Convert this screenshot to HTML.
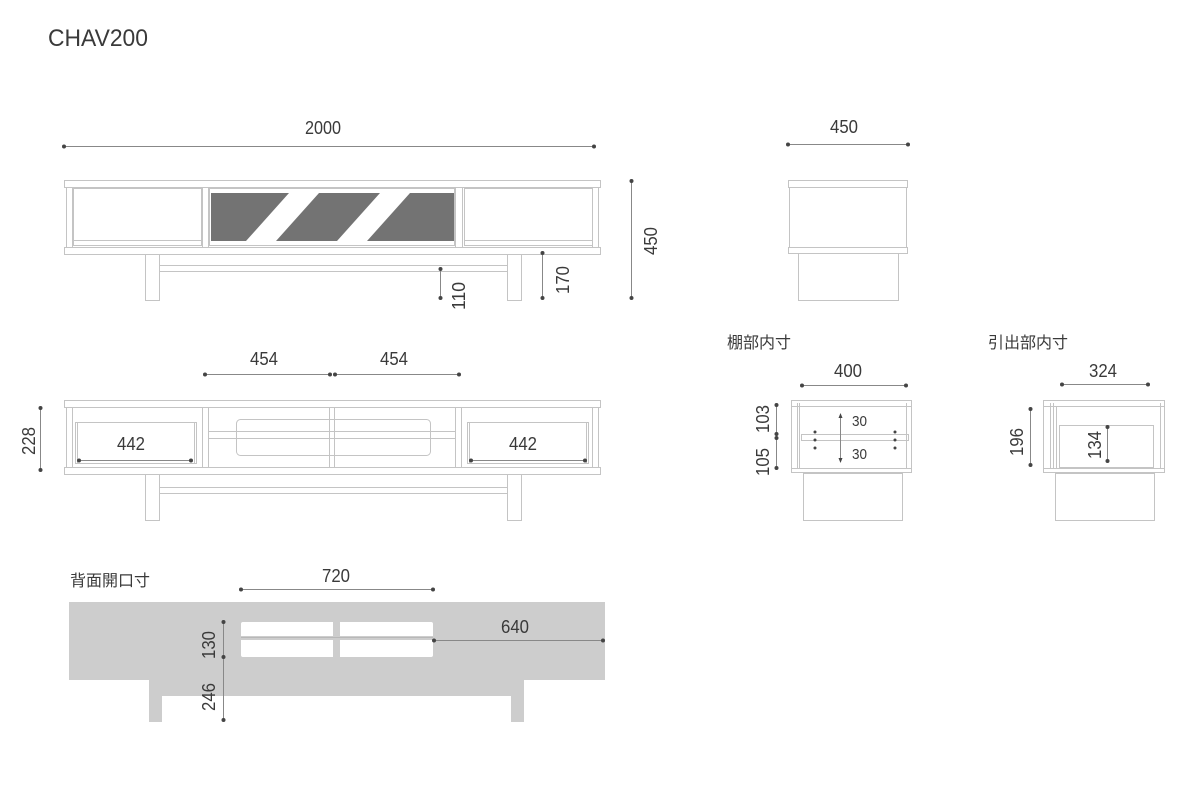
<!DOCTYPE html>
<html><head><meta charset="utf-8"><style>
html,body{margin:0;padding:0;background:#fff;}
svg{display:block;}
text{font-family:"Liberation Sans","Noto Sans CJK JP",sans-serif;fill:#3a3a3a;}
</style></head><body>
<svg width="1200" height="800" viewBox="0 0 1200 800" xmlns="http://www.w3.org/2000/svg">
<g fill="none" stroke="#c4c4c4" stroke-width="1">
<rect x="64.5" y="180.5" width="536" height="7"/>
<rect x="64.5" y="247.5" width="536" height="7"/>
<line x1="66.5" y1="187" x2="66.5" y2="247"/><line x1="72.5" y1="187" x2="72.5" y2="247"/>
<line x1="598.5" y1="187" x2="598.5" y2="247"/><line x1="592.5" y1="187" x2="592.5" y2="247"/>
<rect x="73.5" y="188.5" width="128" height="57"/><line x1="73" y1="240.5" x2="201" y2="240.5"/>
<line x1="202.5" y1="187" x2="202.5" y2="247"/><line x1="208.5" y1="187" x2="208.5" y2="247"/>
<rect x="209.5" y="188.5" width="245" height="57"/>
<line x1="455.5" y1="187" x2="455.5" y2="247"/><line x1="462.5" y1="187" x2="462.5" y2="247"/>
<rect x="464.5" y="188.5" width="128" height="57"/><line x1="464" y1="240.5" x2="592" y2="240.5"/>
<rect x="145.5" y="254.5" width="14" height="46"/>
<rect x="507.5" y="254.5" width="14" height="46"/>
<rect x="159.5" y="265.5" width="348" height="6"/>
<rect x="788.5" y="180.5" width="119" height="7"/>
<line x1="789.5" y1="187" x2="789.5" y2="248"/><line x1="906.5" y1="187" x2="906.5" y2="248"/>
<rect x="788.5" y="247.5" width="119" height="6"/>
<rect x="798.5" y="253.5" width="100" height="47"/>
<rect x="64.5" y="400.5" width="536" height="7"/>
<rect x="64.5" y="467.5" width="536" height="7"/>
<line x1="66.5" y1="407" x2="66.5" y2="467"/><line x1="72.5" y1="407" x2="72.5" y2="467"/>
<line x1="598.5" y1="407" x2="598.5" y2="467"/><line x1="592.5" y1="407" x2="592.5" y2="467"/>
<rect x="75.5" y="422.5" width="121" height="41"/><line x1="77.5" y1="423" x2="77.5" y2="463"/><line x1="194.5" y1="423" x2="194.5" y2="463"/>
<rect x="467.5" y="422.5" width="121" height="41"/><line x1="469.5" y1="423" x2="469.5" y2="463"/><line x1="586.5" y1="423" x2="586.5" y2="463"/>
<line x1="202.5" y1="407" x2="202.5" y2="467"/><line x1="208.5" y1="407" x2="208.5" y2="467"/>
<line x1="329.5" y1="407" x2="329.5" y2="467"/><line x1="334.5" y1="407" x2="334.5" y2="467"/>
<line x1="455.5" y1="407" x2="455.5" y2="467"/><line x1="461.5" y1="407" x2="461.5" y2="467"/>
<rect x="236.5" y="419.5" width="194" height="36" rx="4"/>
<line x1="208" y1="431.5" x2="455" y2="431.5"/><line x1="208" y1="438.5" x2="455" y2="438.5"/>
<rect x="145.5" y="474.5" width="14" height="46"/>
<rect x="507.5" y="474.5" width="14" height="46"/>
<rect x="159.5" y="487.5" width="348" height="6"/>
<rect x="791.5" y="400.5" width="120" height="72"/>
<line x1="792" y1="406.5" x2="911" y2="406.5"/><line x1="792" y1="468.5" x2="911" y2="468.5"/>
<line x1="797.5" y1="403" x2="797.5" y2="468"/><line x1="799.5" y1="403" x2="799.5" y2="468"/>
<line x1="906.5" y1="403" x2="906.5" y2="468"/>
<rect x="801.5" y="434.5" width="107" height="6"/>
<rect x="803.5" y="473.5" width="99" height="47"/>
<rect x="1043.5" y="400.5" width="121" height="72"/>
<line x1="1044" y1="406.5" x2="1164" y2="406.5"/><line x1="1044" y1="468.5" x2="1164" y2="468.5"/>
<line x1="1050.5" y1="403" x2="1050.5" y2="468"/><line x1="1053.5" y1="403" x2="1053.5" y2="468"/><line x1="1056.5" y1="406" x2="1056.5" y2="468"/>
<line x1="1160.5" y1="403" x2="1160.5" y2="468"/>
<rect x="1059.5" y="425.5" width="94" height="42"/>
<rect x="1055.5" y="473.5" width="99" height="47"/>
</g>
<rect x="211" y="193" width="243" height="48" fill="#737373"/>
<polygon points="246,241 276,241 319,193 289,193" fill="#fff"/>
<polygon points="337,241 367,241 410,193 380,193" fill="#fff"/>
<path d="M69,602 H605 V680 H524 V722 H511 V696 H162 V722 H149 V680 H69 Z" fill="#cdcdcd"/>
<rect x="241" y="622" width="192" height="35" rx="2" fill="#fff"/>
<rect x="241" y="636" width="192" height="4" fill="#cdcdcd"/>
<rect x="333" y="622" width="7" height="35" fill="#cdcdcd"/>
<line x1="241" y1="637.5" x2="433" y2="637.5" stroke="#b8b8b8"/>
<g stroke="#888" stroke-width="1">
<line x1="64" y1="146.5" x2="594" y2="146.5"/>
<line x1="631.5" y1="181" x2="631.5" y2="298"/>
<line x1="440.5" y1="269" x2="440.5" y2="298"/>
<line x1="542.5" y1="253" x2="542.5" y2="298"/>
<line x1="788" y1="144.5" x2="908" y2="144.5"/>
<line x1="205" y1="374.5" x2="330" y2="374.5"/><line x1="335" y1="374.5" x2="459" y2="374.5"/>
<line x1="40.5" y1="408" x2="40.5" y2="470"/>
<line x1="79" y1="460.5" x2="191" y2="460.5"/><line x1="471" y1="460.5" x2="585" y2="460.5"/>
<line x1="802" y1="385.5" x2="906" y2="385.5"/>
<line x1="776.5" y1="405" x2="776.5" y2="468"/>
<line x1="840.5" y1="416" x2="840.5" y2="460"/>
<line x1="1062" y1="384.5" x2="1148" y2="384.5"/>
<line x1="1030.5" y1="409" x2="1030.5" y2="465"/>
<line x1="1107.5" y1="427" x2="1107.5" y2="461"/>
<line x1="241" y1="589.5" x2="433" y2="589.5"/>
<line x1="223.5" y1="622" x2="223.5" y2="720"/>
<line x1="434" y1="640.5" x2="603" y2="640.5"/>
</g>
<g fill="#444">
<circle cx="64" cy="146.5" r="2"/><circle cx="594" cy="146.5" r="2"/>
<circle cx="631.5" cy="181" r="2"/><circle cx="631.5" cy="298" r="2"/>
<circle cx="440.5" cy="269" r="2"/><circle cx="440.5" cy="298" r="2"/>
<circle cx="542.5" cy="253" r="2"/><circle cx="542.5" cy="298" r="2"/>
<circle cx="788" cy="144.5" r="2"/><circle cx="908" cy="144.5" r="2"/>
<circle cx="205" cy="374.5" r="2"/><circle cx="330" cy="374.5" r="2"/><circle cx="335" cy="374.5" r="2"/><circle cx="459" cy="374.5" r="2"/>
<circle cx="40.5" cy="408" r="2"/><circle cx="40.5" cy="470" r="2"/>
<circle cx="79" cy="460.5" r="2"/><circle cx="191" cy="460.5" r="2"/><circle cx="471" cy="460.5" r="2"/><circle cx="585" cy="460.5" r="2"/>
<circle cx="802" cy="385.5" r="2"/><circle cx="906" cy="385.5" r="2"/>
<circle cx="776.5" cy="405" r="2"/><circle cx="776.5" cy="434" r="2"/><circle cx="776.5" cy="438" r="2"/><circle cx="776.5" cy="468" r="2"/>
<circle cx="815" cy="432" r="1.5"/><circle cx="815" cy="440" r="1.5"/><circle cx="815" cy="448" r="1.5"/>
<circle cx="895" cy="432" r="1.5"/><circle cx="895" cy="440" r="1.5"/><circle cx="895" cy="448" r="1.5"/>
<polygon points="840.5,413 838.5,418 842.5,418"/><polygon points="840.5,463 838.5,458 842.5,458"/>
<circle cx="1062" cy="384.5" r="2"/><circle cx="1148" cy="384.5" r="2"/>
<circle cx="1030.5" cy="409" r="2"/><circle cx="1030.5" cy="465" r="2"/>
<circle cx="1107.5" cy="427" r="2"/><circle cx="1107.5" cy="461" r="2"/>
<circle cx="241" cy="589.5" r="2"/><circle cx="433" cy="589.5" r="2"/>
<circle cx="223.5" cy="622" r="2"/><circle cx="223.5" cy="657" r="2"/><circle cx="223.5" cy="720" r="2"/>
<circle cx="434" cy="640.5" r="2"/><circle cx="603" cy="640.5" r="2"/>
</g>
<text x="48" y="46" font-size="24" textLength="100" lengthAdjust="spacingAndGlyphs">CHAV200</text>
<text x="305" y="134" font-size="18" textLength="36" lengthAdjust="spacingAndGlyphs">2000</text>
<text x="830" y="133" font-size="18" textLength="28" lengthAdjust="spacingAndGlyphs">450</text>
<text transform="translate(657,255) rotate(-90)" font-size="18" textLength="28" lengthAdjust="spacingAndGlyphs">450</text>
<text transform="translate(465,310) rotate(-90)" font-size="18" textLength="28" lengthAdjust="spacingAndGlyphs">110</text>
<text transform="translate(569,294) rotate(-90)" font-size="18" textLength="28" lengthAdjust="spacingAndGlyphs">170</text>
<text x="250" y="365" font-size="18" textLength="28" lengthAdjust="spacingAndGlyphs">454</text>
<text x="380" y="365" font-size="18" textLength="28" lengthAdjust="spacingAndGlyphs">454</text>
<text transform="translate(35,455) rotate(-90)" font-size="18" textLength="28" lengthAdjust="spacingAndGlyphs">228</text>
<text x="117" y="450" font-size="18" textLength="28" lengthAdjust="spacingAndGlyphs">442</text>
<text x="509" y="450" font-size="18" textLength="28" lengthAdjust="spacingAndGlyphs">442</text>
<text x="727" y="348" font-size="16">棚部内寸</text>
<text x="834" y="377" font-size="18" textLength="28" lengthAdjust="spacingAndGlyphs">400</text>
<text transform="translate(769,433) rotate(-90)" font-size="18" textLength="28" lengthAdjust="spacingAndGlyphs">103</text>
<text transform="translate(769,476) rotate(-90)" font-size="18" textLength="28" lengthAdjust="spacingAndGlyphs">105</text>
<text x="852" y="426" font-size="15" textLength="15" lengthAdjust="spacingAndGlyphs">30</text>
<text x="852" y="459" font-size="15" textLength="15" lengthAdjust="spacingAndGlyphs">30</text>
<text x="988" y="348" font-size="16">引出部内寸</text>
<text x="1089" y="377" font-size="18" textLength="28" lengthAdjust="spacingAndGlyphs">324</text>
<text transform="translate(1023,456) rotate(-90)" font-size="18" textLength="28" lengthAdjust="spacingAndGlyphs">196</text>
<text transform="translate(1101,459) rotate(-90)" font-size="18" textLength="28" lengthAdjust="spacingAndGlyphs">134</text>
<text x="70" y="586" font-size="16">背面開口寸</text>
<text x="322" y="582" font-size="18" textLength="28" lengthAdjust="spacingAndGlyphs">720</text>
<text x="501" y="633" font-size="18" textLength="28" lengthAdjust="spacingAndGlyphs">640</text>
<text transform="translate(215,659) rotate(-90)" font-size="18" textLength="28" lengthAdjust="spacingAndGlyphs">130</text>
<text transform="translate(215,711) rotate(-90)" font-size="18" textLength="28" lengthAdjust="spacingAndGlyphs">246</text>
</svg>
</body></html>
